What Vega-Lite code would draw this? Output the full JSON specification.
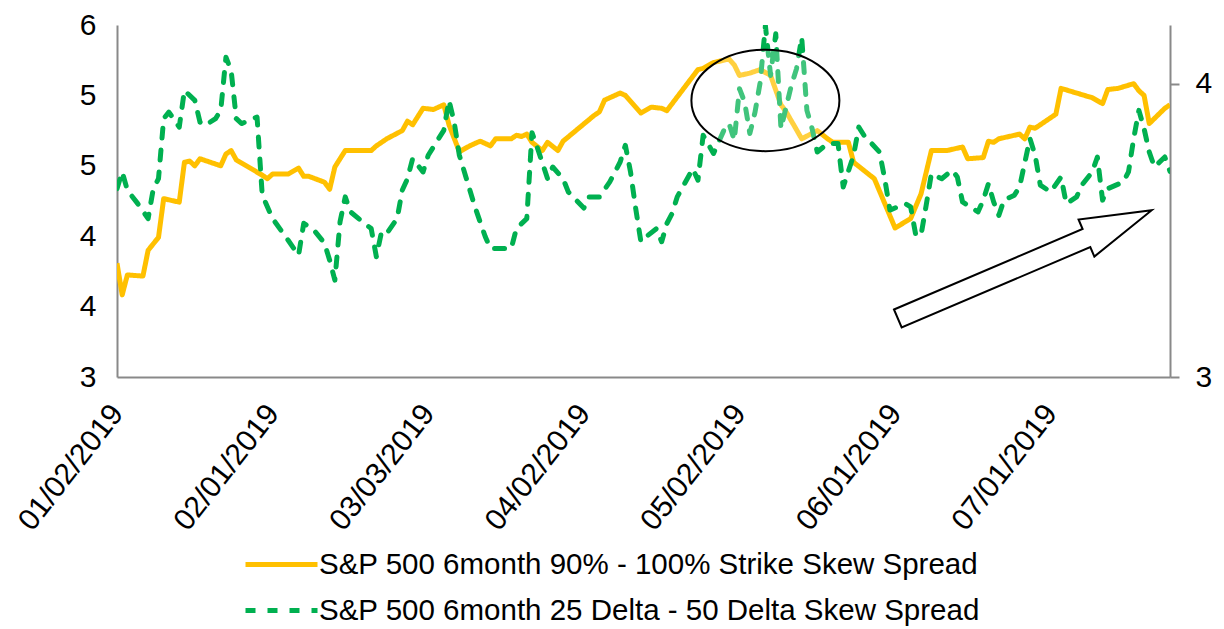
{
  "$schema": "https://vega.github.io/schema/vega-lite/v6.json",
  "width": 1053,
  "height": 352,
  "autosize": {"type": "none"},
  "padding": {"left": 117, "top": 25, "right": 54, "bottom": 252},
  "config": {"view": {"stroke": null}, "font": "Liberation Sans"},
  "datasets": {
    "strike": [
      {"date": "2019-01-02", "value": 3.97, "series": "S&P 500 6month 90% - 100% Strike Skew Spread"},
      {"date": "2019-01-03", "value": 3.70, "series": "S&P 500 6month 90% - 100% Strike Skew Spread"},
      {"date": "2019-01-04", "value": 3.87, "series": "S&P 500 6month 90% - 100% Strike Skew Spread"},
      {"date": "2019-01-07", "value": 3.86, "series": "S&P 500 6month 90% - 100% Strike Skew Spread"},
      {"date": "2019-01-08", "value": 4.08, "series": "S&P 500 6month 90% - 100% Strike Skew Spread"},
      {"date": "2019-01-10", "value": 4.19, "series": "S&P 500 6month 90% - 100% Strike Skew Spread"},
      {"date": "2019-01-11", "value": 4.52, "series": "S&P 500 6month 90% - 100% Strike Skew Spread"},
      {"date": "2019-01-14", "value": 4.49, "series": "S&P 500 6month 90% - 100% Strike Skew Spread"},
      {"date": "2019-01-15", "value": 4.83, "series": "S&P 500 6month 90% - 100% Strike Skew Spread"},
      {"date": "2019-01-16", "value": 4.84, "series": "S&P 500 6month 90% - 100% Strike Skew Spread"},
      {"date": "2019-01-17", "value": 4.80, "series": "S&P 500 6month 90% - 100% Strike Skew Spread"},
      {"date": "2019-01-18", "value": 4.86, "series": "S&P 500 6month 90% - 100% Strike Skew Spread"},
      {"date": "2019-01-22", "value": 4.80, "series": "S&P 500 6month 90% - 100% Strike Skew Spread"},
      {"date": "2019-01-23", "value": 4.90, "series": "S&P 500 6month 90% - 100% Strike Skew Spread"},
      {"date": "2019-01-24", "value": 4.93, "series": "S&P 500 6month 90% - 100% Strike Skew Spread"},
      {"date": "2019-01-25", "value": 4.85, "series": "S&P 500 6month 90% - 100% Strike Skew Spread"},
      {"date": "2019-01-30", "value": 4.72, "series": "S&P 500 6month 90% - 100% Strike Skew Spread"},
      {"date": "2019-01-31", "value": 4.69, "series": "S&P 500 6month 90% - 100% Strike Skew Spread"},
      {"date": "2019-02-01", "value": 4.73, "series": "S&P 500 6month 90% - 100% Strike Skew Spread"},
      {"date": "2019-02-04", "value": 4.73, "series": "S&P 500 6month 90% - 100% Strike Skew Spread"},
      {"date": "2019-02-06", "value": 4.78, "series": "S&P 500 6month 90% - 100% Strike Skew Spread"},
      {"date": "2019-02-07", "value": 4.71, "series": "S&P 500 6month 90% - 100% Strike Skew Spread"},
      {"date": "2019-02-08", "value": 4.71, "series": "S&P 500 6month 90% - 100% Strike Skew Spread"},
      {"date": "2019-02-11", "value": 4.66, "series": "S&P 500 6month 90% - 100% Strike Skew Spread"},
      {"date": "2019-02-12", "value": 4.60, "series": "S&P 500 6month 90% - 100% Strike Skew Spread"},
      {"date": "2019-02-13", "value": 4.79, "series": "S&P 500 6month 90% - 100% Strike Skew Spread"},
      {"date": "2019-02-15", "value": 4.93, "series": "S&P 500 6month 90% - 100% Strike Skew Spread"},
      {"date": "2019-02-20", "value": 4.93, "series": "S&P 500 6month 90% - 100% Strike Skew Spread"},
      {"date": "2019-02-21", "value": 4.97, "series": "S&P 500 6month 90% - 100% Strike Skew Spread"},
      {"date": "2019-02-23", "value": 5.03, "series": "S&P 500 6month 90% - 100% Strike Skew Spread"},
      {"date": "2019-02-26", "value": 5.10, "series": "S&P 500 6month 90% - 100% Strike Skew Spread"},
      {"date": "2019-02-27", "value": 5.18, "series": "S&P 500 6month 90% - 100% Strike Skew Spread"},
      {"date": "2019-02-28", "value": 5.15, "series": "S&P 500 6month 90% - 100% Strike Skew Spread"},
      {"date": "2019-03-02", "value": 5.29, "series": "S&P 500 6month 90% - 100% Strike Skew Spread"},
      {"date": "2019-03-04", "value": 5.28, "series": "S&P 500 6month 90% - 100% Strike Skew Spread"},
      {"date": "2019-03-06", "value": 5.32, "series": "S&P 500 6month 90% - 100% Strike Skew Spread"},
      {"date": "2019-03-07", "value": 5.15, "series": "S&P 500 6month 90% - 100% Strike Skew Spread"},
      {"date": "2019-03-09", "value": 4.92, "series": "S&P 500 6month 90% - 100% Strike Skew Spread"},
      {"date": "2019-03-11", "value": 4.97, "series": "S&P 500 6month 90% - 100% Strike Skew Spread"},
      {"date": "2019-03-13", "value": 5.01, "series": "S&P 500 6month 90% - 100% Strike Skew Spread"},
      {"date": "2019-03-15", "value": 4.97, "series": "S&P 500 6month 90% - 100% Strike Skew Spread"},
      {"date": "2019-03-16", "value": 5.03, "series": "S&P 500 6month 90% - 100% Strike Skew Spread"},
      {"date": "2019-03-19", "value": 5.03, "series": "S&P 500 6month 90% - 100% Strike Skew Spread"},
      {"date": "2019-03-20", "value": 5.06, "series": "S&P 500 6month 90% - 100% Strike Skew Spread"},
      {"date": "2019-03-21", "value": 5.05, "series": "S&P 500 6month 90% - 100% Strike Skew Spread"},
      {"date": "2019-03-22", "value": 5.07, "series": "S&P 500 6month 90% - 100% Strike Skew Spread"},
      {"date": "2019-03-23", "value": 5.00, "series": "S&P 500 6month 90% - 100% Strike Skew Spread"},
      {"date": "2019-03-25", "value": 4.93, "series": "S&P 500 6month 90% - 100% Strike Skew Spread"},
      {"date": "2019-03-26", "value": 5.00, "series": "S&P 500 6month 90% - 100% Strike Skew Spread"},
      {"date": "2019-03-28", "value": 4.93, "series": "S&P 500 6month 90% - 100% Strike Skew Spread"},
      {"date": "2019-03-29", "value": 5.01, "series": "S&P 500 6month 90% - 100% Strike Skew Spread"},
      {"date": "2019-04-04", "value": 5.23, "series": "S&P 500 6month 90% - 100% Strike Skew Spread"},
      {"date": "2019-04-05", "value": 5.26, "series": "S&P 500 6month 90% - 100% Strike Skew Spread"},
      {"date": "2019-04-06", "value": 5.36, "series": "S&P 500 6month 90% - 100% Strike Skew Spread"},
      {"date": "2019-04-09", "value": 5.42, "series": "S&P 500 6month 90% - 100% Strike Skew Spread"},
      {"date": "2019-04-10", "value": 5.40, "series": "S&P 500 6month 90% - 100% Strike Skew Spread"},
      {"date": "2019-04-13", "value": 5.25, "series": "S&P 500 6month 90% - 100% Strike Skew Spread"},
      {"date": "2019-04-15", "value": 5.30, "series": "S&P 500 6month 90% - 100% Strike Skew Spread"},
      {"date": "2019-04-17", "value": 5.29, "series": "S&P 500 6month 90% - 100% Strike Skew Spread"},
      {"date": "2019-04-18", "value": 5.27, "series": "S&P 500 6month 90% - 100% Strike Skew Spread"},
      {"date": "2019-04-24", "value": 5.62, "series": "S&P 500 6month 90% - 100% Strike Skew Spread"},
      {"date": "2019-04-25", "value": 5.63, "series": "S&P 500 6month 90% - 100% Strike Skew Spread"},
      {"date": "2019-04-27", "value": 5.68, "series": "S&P 500 6month 90% - 100% Strike Skew Spread"},
      {"date": "2019-04-30", "value": 5.71, "series": "S&P 500 6month 90% - 100% Strike Skew Spread"},
      {"date": "2019-05-01", "value": 5.66, "series": "S&P 500 6month 90% - 100% Strike Skew Spread"},
      {"date": "2019-05-02", "value": 5.57, "series": "S&P 500 6month 90% - 100% Strike Skew Spread"},
      {"date": "2019-05-04", "value": 5.59, "series": "S&P 500 6month 90% - 100% Strike Skew Spread"},
      {"date": "2019-05-06", "value": 5.62, "series": "S&P 500 6month 90% - 100% Strike Skew Spread"},
      {"date": "2019-05-08", "value": 5.57, "series": "S&P 500 6month 90% - 100% Strike Skew Spread"},
      {"date": "2019-05-10", "value": 5.32, "series": "S&P 500 6month 90% - 100% Strike Skew Spread"},
      {"date": "2019-05-11", "value": 5.26, "series": "S&P 500 6month 90% - 100% Strike Skew Spread"},
      {"date": "2019-05-14", "value": 5.03, "series": "S&P 500 6month 90% - 100% Strike Skew Spread"},
      {"date": "2019-05-17", "value": 5.10, "series": "S&P 500 6month 90% - 100% Strike Skew Spread"},
      {"date": "2019-05-19", "value": 5.03, "series": "S&P 500 6month 90% - 100% Strike Skew Spread"},
      {"date": "2019-05-20", "value": 5.00, "series": "S&P 500 6month 90% - 100% Strike Skew Spread"},
      {"date": "2019-05-23", "value": 5.00, "series": "S&P 500 6month 90% - 100% Strike Skew Spread"},
      {"date": "2019-05-24", "value": 4.83, "series": "S&P 500 6month 90% - 100% Strike Skew Spread"},
      {"date": "2019-05-28", "value": 4.69, "series": "S&P 500 6month 90% - 100% Strike Skew Spread"},
      {"date": "2019-05-30", "value": 4.48, "series": "S&P 500 6month 90% - 100% Strike Skew Spread"},
      {"date": "2019-06-01", "value": 4.27, "series": "S&P 500 6month 90% - 100% Strike Skew Spread"},
      {"date": "2019-06-04", "value": 4.35, "series": "S&P 500 6month 90% - 100% Strike Skew Spread"},
      {"date": "2019-06-06", "value": 4.56, "series": "S&P 500 6month 90% - 100% Strike Skew Spread"},
      {"date": "2019-06-08", "value": 4.93, "series": "S&P 500 6month 90% - 100% Strike Skew Spread"},
      {"date": "2019-06-11", "value": 4.93, "series": "S&P 500 6month 90% - 100% Strike Skew Spread"},
      {"date": "2019-06-14", "value": 4.96, "series": "S&P 500 6month 90% - 100% Strike Skew Spread"},
      {"date": "2019-06-15", "value": 4.86, "series": "S&P 500 6month 90% - 100% Strike Skew Spread"},
      {"date": "2019-06-18", "value": 4.87, "series": "S&P 500 6month 90% - 100% Strike Skew Spread"},
      {"date": "2019-06-19", "value": 5.01, "series": "S&P 500 6month 90% - 100% Strike Skew Spread"},
      {"date": "2019-06-20", "value": 5.00, "series": "S&P 500 6month 90% - 100% Strike Skew Spread"},
      {"date": "2019-06-21", "value": 5.03, "series": "S&P 500 6month 90% - 100% Strike Skew Spread"},
      {"date": "2019-06-25", "value": 5.07, "series": "S&P 500 6month 90% - 100% Strike Skew Spread"},
      {"date": "2019-06-26", "value": 5.03, "series": "S&P 500 6month 90% - 100% Strike Skew Spread"},
      {"date": "2019-06-27", "value": 5.13, "series": "S&P 500 6month 90% - 100% Strike Skew Spread"},
      {"date": "2019-06-28", "value": 5.12, "series": "S&P 500 6month 90% - 100% Strike Skew Spread"},
      {"date": "2019-07-02", "value": 5.24, "series": "S&P 500 6month 90% - 100% Strike Skew Spread"},
      {"date": "2019-07-03", "value": 5.46, "series": "S&P 500 6month 90% - 100% Strike Skew Spread"},
      {"date": "2019-07-09", "value": 5.38, "series": "S&P 500 6month 90% - 100% Strike Skew Spread"},
      {"date": "2019-07-11", "value": 5.33, "series": "S&P 500 6month 90% - 100% Strike Skew Spread"},
      {"date": "2019-07-12", "value": 5.45, "series": "S&P 500 6month 90% - 100% Strike Skew Spread"},
      {"date": "2019-07-14", "value": 5.46, "series": "S&P 500 6month 90% - 100% Strike Skew Spread"},
      {"date": "2019-07-17", "value": 5.50, "series": "S&P 500 6month 90% - 100% Strike Skew Spread"},
      {"date": "2019-07-18", "value": 5.44, "series": "S&P 500 6month 90% - 100% Strike Skew Spread"},
      {"date": "2019-07-19", "value": 5.40, "series": "S&P 500 6month 90% - 100% Strike Skew Spread"},
      {"date": "2019-07-20", "value": 5.16, "series": "S&P 500 6month 90% - 100% Strike Skew Spread"},
      {"date": "2019-07-23", "value": 5.29, "series": "S&P 500 6month 90% - 100% Strike Skew Spread"},
      {"date": "2019-07-24", "value": 5.32, "series": "S&P 500 6month 90% - 100% Strike Skew Spread"}
    ],
    "delta": [
      {"date": "2019-01-02", "value": 3.642, "series": "S&P 500 6month 25 Delta - 50 Delta Skew Spread"},
      {"date": "2019-01-03", "value": 3.699, "series": "S&P 500 6month 25 Delta - 50 Delta Skew Spread"},
      {"date": "2019-01-04", "value": 3.637, "series": "S&P 500 6month 25 Delta - 50 Delta Skew Spread"},
      {"date": "2019-01-06", "value": 3.591, "series": "S&P 500 6month 25 Delta - 50 Delta Skew Spread"},
      {"date": "2019-01-08", "value": 3.540, "series": "S&P 500 6month 25 Delta - 50 Delta Skew Spread"},
      {"date": "2019-01-09", "value": 3.642, "series": "S&P 500 6month 25 Delta - 50 Delta Skew Spread"},
      {"date": "2019-01-10", "value": 3.676, "series": "S&P 500 6month 25 Delta - 50 Delta Skew Spread"},
      {"date": "2019-01-11", "value": 3.881, "series": "S&P 500 6month 25 Delta - 50 Delta Skew Spread"},
      {"date": "2019-01-12", "value": 3.903, "series": "S&P 500 6month 25 Delta - 50 Delta Skew Spread"},
      {"date": "2019-01-14", "value": 3.852, "series": "S&P 500 6month 25 Delta - 50 Delta Skew Spread"},
      {"date": "2019-01-15", "value": 3.977, "series": "S&P 500 6month 25 Delta - 50 Delta Skew Spread"},
      {"date": "2019-01-17", "value": 3.943, "series": "S&P 500 6month 25 Delta - 50 Delta Skew Spread"},
      {"date": "2019-01-18", "value": 3.869, "series": "S&P 500 6month 25 Delta - 50 Delta Skew Spread"},
      {"date": "2019-01-19", "value": 3.858, "series": "S&P 500 6month 25 Delta - 50 Delta Skew Spread"},
      {"date": "2019-01-21", "value": 3.881, "series": "S&P 500 6month 25 Delta - 50 Delta Skew Spread"},
      {"date": "2019-01-22", "value": 3.909, "series": "S&P 500 6month 25 Delta - 50 Delta Skew Spread"},
      {"date": "2019-01-23", "value": 4.090, "series": "S&P 500 6month 25 Delta - 50 Delta Skew Spread"},
      {"date": "2019-01-24", "value": 4.045, "series": "S&P 500 6month 25 Delta - 50 Delta Skew Spread"},
      {"date": "2019-01-25", "value": 3.881, "series": "S&P 500 6month 25 Delta - 50 Delta Skew Spread"},
      {"date": "2019-01-26", "value": 3.864, "series": "S&P 500 6month 25 Delta - 50 Delta Skew Spread"},
      {"date": "2019-01-27", "value": 3.871, "series": "S&P 500 6month 25 Delta - 50 Delta Skew Spread"},
      {"date": "2019-01-29", "value": 3.886, "series": "S&P 500 6month 25 Delta - 50 Delta Skew Spread"},
      {"date": "2019-01-30", "value": 3.620, "series": "S&P 500 6month 25 Delta - 50 Delta Skew Spread"},
      {"date": "2019-02-01", "value": 3.540, "series": "S&P 500 6month 25 Delta - 50 Delta Skew Spread"},
      {"date": "2019-02-04", "value": 3.466, "series": "S&P 500 6month 25 Delta - 50 Delta Skew Spread"},
      {"date": "2019-02-06", "value": 3.415, "series": "S&P 500 6month 25 Delta - 50 Delta Skew Spread"},
      {"date": "2019-02-07", "value": 3.524, "series": "S&P 500 6month 25 Delta - 50 Delta Skew Spread"},
      {"date": "2019-02-09", "value": 3.500, "series": "S&P 500 6month 25 Delta - 50 Delta Skew Spread"},
      {"date": "2019-02-11", "value": 3.456, "series": "S&P 500 6month 25 Delta - 50 Delta Skew Spread"},
      {"date": "2019-02-12", "value": 3.398, "series": "S&P 500 6month 25 Delta - 50 Delta Skew Spread"},
      {"date": "2019-02-13", "value": 3.330, "series": "S&P 500 6month 25 Delta - 50 Delta Skew Spread"},
      {"date": "2019-02-14", "value": 3.529, "series": "S&P 500 6month 25 Delta - 50 Delta Skew Spread"},
      {"date": "2019-02-15", "value": 3.614, "series": "S&P 500 6month 25 Delta - 50 Delta Skew Spread"},
      {"date": "2019-02-16", "value": 3.563, "series": "S&P 500 6month 25 Delta - 50 Delta Skew Spread"},
      {"date": "2019-02-18", "value": 3.534, "series": "S&P 500 6month 25 Delta - 50 Delta Skew Spread"},
      {"date": "2019-02-20", "value": 3.506, "series": "S&P 500 6month 25 Delta - 50 Delta Skew Spread"},
      {"date": "2019-02-21", "value": 3.410, "series": "S&P 500 6month 25 Delta - 50 Delta Skew Spread"},
      {"date": "2019-02-22", "value": 3.495, "series": "S&P 500 6month 25 Delta - 50 Delta Skew Spread"},
      {"date": "2019-02-23", "value": 3.489, "series": "S&P 500 6month 25 Delta - 50 Delta Skew Spread"},
      {"date": "2019-02-25", "value": 3.540, "series": "S&P 500 6month 25 Delta - 50 Delta Skew Spread"},
      {"date": "2019-02-26", "value": 3.637, "series": "S&P 500 6month 25 Delta - 50 Delta Skew Spread"},
      {"date": "2019-02-27", "value": 3.676, "series": "S&P 500 6month 25 Delta - 50 Delta Skew Spread"},
      {"date": "2019-02-28", "value": 3.745, "series": "S&P 500 6month 25 Delta - 50 Delta Skew Spread"},
      {"date": "2019-03-02", "value": 3.699, "series": "S&P 500 6month 25 Delta - 50 Delta Skew Spread"},
      {"date": "2019-03-03", "value": 3.756, "series": "S&P 500 6month 25 Delta - 50 Delta Skew Spread"},
      {"date": "2019-03-06", "value": 3.841, "series": "S&P 500 6month 25 Delta - 50 Delta Skew Spread"},
      {"date": "2019-03-07", "value": 3.943, "series": "S&P 500 6month 25 Delta - 50 Delta Skew Spread"},
      {"date": "2019-03-08", "value": 3.869, "series": "S&P 500 6month 25 Delta - 50 Delta Skew Spread"},
      {"date": "2019-03-09", "value": 3.756, "series": "S&P 500 6month 25 Delta - 50 Delta Skew Spread"},
      {"date": "2019-03-12", "value": 3.580, "series": "S&P 500 6month 25 Delta - 50 Delta Skew Spread"},
      {"date": "2019-03-14", "value": 3.478, "series": "S&P 500 6month 25 Delta - 50 Delta Skew Spread"},
      {"date": "2019-03-15", "value": 3.438, "series": "S&P 500 6month 25 Delta - 50 Delta Skew Spread"},
      {"date": "2019-03-19", "value": 3.438, "series": "S&P 500 6month 25 Delta - 50 Delta Skew Spread"},
      {"date": "2019-03-20", "value": 3.506, "series": "S&P 500 6month 25 Delta - 50 Delta Skew Spread"},
      {"date": "2019-03-22", "value": 3.540, "series": "S&P 500 6month 25 Delta - 50 Delta Skew Spread"},
      {"date": "2019-03-23", "value": 3.833, "series": "S&P 500 6month 25 Delta - 50 Delta Skew Spread"},
      {"date": "2019-03-24", "value": 3.784, "series": "S&P 500 6month 25 Delta - 50 Delta Skew Spread"},
      {"date": "2019-03-26", "value": 3.676, "series": "S&P 500 6month 25 Delta - 50 Delta Skew Spread"},
      {"date": "2019-03-27", "value": 3.716, "series": "S&P 500 6month 25 Delta - 50 Delta Skew Spread"},
      {"date": "2019-03-29", "value": 3.676, "series": "S&P 500 6month 25 Delta - 50 Delta Skew Spread"},
      {"date": "2019-03-30", "value": 3.631, "series": "S&P 500 6month 25 Delta - 50 Delta Skew Spread"},
      {"date": "2019-04-02", "value": 3.576, "series": "S&P 500 6month 25 Delta - 50 Delta Skew Spread"},
      {"date": "2019-04-03", "value": 3.614, "series": "S&P 500 6month 25 Delta - 50 Delta Skew Spread"},
      {"date": "2019-04-05", "value": 3.614, "series": "S&P 500 6month 25 Delta - 50 Delta Skew Spread"},
      {"date": "2019-04-07", "value": 3.665, "series": "S&P 500 6month 25 Delta - 50 Delta Skew Spread"},
      {"date": "2019-04-09", "value": 3.733, "series": "S&P 500 6month 25 Delta - 50 Delta Skew Spread"},
      {"date": "2019-04-10", "value": 3.790, "series": "S&P 500 6month 25 Delta - 50 Delta Skew Spread"},
      {"date": "2019-04-11", "value": 3.699, "series": "S&P 500 6month 25 Delta - 50 Delta Skew Spread"},
      {"date": "2019-04-12", "value": 3.574, "series": "S&P 500 6month 25 Delta - 50 Delta Skew Spread"},
      {"date": "2019-04-13", "value": 3.461, "series": "S&P 500 6month 25 Delta - 50 Delta Skew Spread"},
      {"date": "2019-04-14", "value": 3.478, "series": "S&P 500 6month 25 Delta - 50 Delta Skew Spread"},
      {"date": "2019-04-16", "value": 3.506, "series": "S&P 500 6month 25 Delta - 50 Delta Skew Spread"},
      {"date": "2019-04-17", "value": 3.461, "series": "S&P 500 6month 25 Delta - 50 Delta Skew Spread"},
      {"date": "2019-04-18", "value": 3.523, "series": "S&P 500 6month 25 Delta - 50 Delta Skew Spread"},
      {"date": "2019-04-19", "value": 3.557, "series": "S&P 500 6month 25 Delta - 50 Delta Skew Spread"},
      {"date": "2019-04-20", "value": 3.614, "series": "S&P 500 6month 25 Delta - 50 Delta Skew Spread"},
      {"date": "2019-04-23", "value": 3.710, "series": "S&P 500 6month 25 Delta - 50 Delta Skew Spread"},
      {"date": "2019-04-24", "value": 3.671, "series": "S&P 500 6month 25 Delta - 50 Delta Skew Spread"},
      {"date": "2019-04-25", "value": 3.824, "series": "S&P 500 6month 25 Delta - 50 Delta Skew Spread"},
      {"date": "2019-04-27", "value": 3.762, "series": "S&P 500 6month 25 Delta - 50 Delta Skew Spread"},
      {"date": "2019-04-29", "value": 3.841, "series": "S&P 500 6month 25 Delta - 50 Delta Skew Spread"},
      {"date": "2019-04-30", "value": 3.864, "series": "S&P 500 6month 25 Delta - 50 Delta Skew Spread"},
      {"date": "2019-05-01", "value": 3.807, "series": "S&P 500 6month 25 Delta - 50 Delta Skew Spread"},
      {"date": "2019-05-02", "value": 3.983, "series": "S&P 500 6month 25 Delta - 50 Delta Skew Spread"},
      {"date": "2019-05-03", "value": 3.937, "series": "S&P 500 6month 25 Delta - 50 Delta Skew Spread"},
      {"date": "2019-05-04", "value": 3.830, "series": "S&P 500 6month 25 Delta - 50 Delta Skew Spread"},
      {"date": "2019-05-05", "value": 3.903, "series": "S&P 500 6month 25 Delta - 50 Delta Skew Spread"},
      {"date": "2019-05-06", "value": 4.005, "series": "S&P 500 6month 25 Delta - 50 Delta Skew Spread"},
      {"date": "2019-05-07", "value": 4.198, "series": "S&P 500 6month 25 Delta - 50 Delta Skew Spread"},
      {"date": "2019-05-08", "value": 4.028, "series": "S&P 500 6month 25 Delta - 50 Delta Skew Spread"},
      {"date": "2019-05-09", "value": 4.170, "series": "S&P 500 6month 25 Delta - 50 Delta Skew Spread"},
      {"date": "2019-05-10", "value": 3.847, "series": "S&P 500 6month 25 Delta - 50 Delta Skew Spread"},
      {"date": "2019-05-12", "value": 3.994, "series": "S&P 500 6month 25 Delta - 50 Delta Skew Spread"},
      {"date": "2019-05-13", "value": 4.051, "series": "S&P 500 6month 25 Delta - 50 Delta Skew Spread"},
      {"date": "2019-05-14", "value": 4.158, "series": "S&P 500 6month 25 Delta - 50 Delta Skew Spread"},
      {"date": "2019-05-15", "value": 3.909, "series": "S&P 500 6month 25 Delta - 50 Delta Skew Spread"},
      {"date": "2019-05-16", "value": 3.847, "series": "S&P 500 6month 25 Delta - 50 Delta Skew Spread"},
      {"date": "2019-05-17", "value": 3.767, "series": "S&P 500 6month 25 Delta - 50 Delta Skew Spread"},
      {"date": "2019-05-19", "value": 3.796, "series": "S&P 500 6month 25 Delta - 50 Delta Skew Spread"},
      {"date": "2019-05-21", "value": 3.796, "series": "S&P 500 6month 25 Delta - 50 Delta Skew Spread"},
      {"date": "2019-05-22", "value": 3.648, "series": "S&P 500 6month 25 Delta - 50 Delta Skew Spread"},
      {"date": "2019-05-24", "value": 3.756, "series": "S&P 500 6month 25 Delta - 50 Delta Skew Spread"},
      {"date": "2019-05-25", "value": 3.852, "series": "S&P 500 6month 25 Delta - 50 Delta Skew Spread"},
      {"date": "2019-05-26", "value": 3.824, "series": "S&P 500 6month 25 Delta - 50 Delta Skew Spread"},
      {"date": "2019-05-29", "value": 3.767, "series": "S&P 500 6month 25 Delta - 50 Delta Skew Spread"},
      {"date": "2019-05-30", "value": 3.676, "series": "S&P 500 6month 25 Delta - 50 Delta Skew Spread"},
      {"date": "2019-05-31", "value": 3.569, "series": "S&P 500 6month 25 Delta - 50 Delta Skew Spread"},
      {"date": "2019-06-03", "value": 3.591, "series": "S&P 500 6month 25 Delta - 50 Delta Skew Spread"},
      {"date": "2019-06-04", "value": 3.580, "series": "S&P 500 6month 25 Delta - 50 Delta Skew Spread"},
      {"date": "2019-06-05", "value": 3.483, "series": "S&P 500 6month 25 Delta - 50 Delta Skew Spread"},
      {"date": "2019-06-06", "value": 3.483, "series": "S&P 500 6month 25 Delta - 50 Delta Skew Spread"},
      {"date": "2019-06-07", "value": 3.586, "series": "S&P 500 6month 25 Delta - 50 Delta Skew Spread"},
      {"date": "2019-06-08", "value": 3.693, "series": "S&P 500 6month 25 Delta - 50 Delta Skew Spread"},
      {"date": "2019-06-10", "value": 3.676, "series": "S&P 500 6month 25 Delta - 50 Delta Skew Spread"},
      {"date": "2019-06-12", "value": 3.705, "series": "S&P 500 6month 25 Delta - 50 Delta Skew Spread"},
      {"date": "2019-06-13", "value": 3.682, "series": "S&P 500 6month 25 Delta - 50 Delta Skew Spread"},
      {"date": "2019-06-14", "value": 3.597, "series": "S&P 500 6month 25 Delta - 50 Delta Skew Spread"},
      {"date": "2019-06-17", "value": 3.563, "series": "S&P 500 6month 25 Delta - 50 Delta Skew Spread"},
      {"date": "2019-06-18", "value": 3.603, "series": "S&P 500 6month 25 Delta - 50 Delta Skew Spread"},
      {"date": "2019-06-19", "value": 3.659, "series": "S&P 500 6month 25 Delta - 50 Delta Skew Spread"},
      {"date": "2019-06-20", "value": 3.597, "series": "S&P 500 6month 25 Delta - 50 Delta Skew Spread"},
      {"date": "2019-06-21", "value": 3.551, "series": "S&P 500 6month 25 Delta - 50 Delta Skew Spread"},
      {"date": "2019-06-22", "value": 3.603, "series": "S&P 500 6month 25 Delta - 50 Delta Skew Spread"},
      {"date": "2019-06-24", "value": 3.620, "series": "S&P 500 6month 25 Delta - 50 Delta Skew Spread"},
      {"date": "2019-06-25", "value": 3.648, "series": "S&P 500 6month 25 Delta - 50 Delta Skew Spread"},
      {"date": "2019-06-27", "value": 3.813, "series": "S&P 500 6month 25 Delta - 50 Delta Skew Spread"},
      {"date": "2019-06-28", "value": 3.756, "series": "S&P 500 6month 25 Delta - 50 Delta Skew Spread"},
      {"date": "2019-06-29", "value": 3.654, "series": "S&P 500 6month 25 Delta - 50 Delta Skew Spread"},
      {"date": "2019-07-01", "value": 3.631, "series": "S&P 500 6month 25 Delta - 50 Delta Skew Spread"},
      {"date": "2019-07-03", "value": 3.682, "series": "S&P 500 6month 25 Delta - 50 Delta Skew Spread"},
      {"date": "2019-07-04", "value": 3.591, "series": "S&P 500 6month 25 Delta - 50 Delta Skew Spread"},
      {"date": "2019-07-06", "value": 3.614, "series": "S&P 500 6month 25 Delta - 50 Delta Skew Spread"},
      {"date": "2019-07-07", "value": 3.654, "series": "S&P 500 6month 25 Delta - 50 Delta Skew Spread"},
      {"date": "2019-07-09", "value": 3.699, "series": "S&P 500 6month 25 Delta - 50 Delta Skew Spread"},
      {"date": "2019-07-10", "value": 3.750, "series": "S&P 500 6month 25 Delta - 50 Delta Skew Spread"},
      {"date": "2019-07-11", "value": 3.603, "series": "S&P 500 6month 25 Delta - 50 Delta Skew Spread"},
      {"date": "2019-07-12", "value": 3.642, "series": "S&P 500 6month 25 Delta - 50 Delta Skew Spread"},
      {"date": "2019-07-15", "value": 3.665, "series": "S&P 500 6month 25 Delta - 50 Delta Skew Spread"},
      {"date": "2019-07-16", "value": 3.699, "series": "S&P 500 6month 25 Delta - 50 Delta Skew Spread"},
      {"date": "2019-07-17", "value": 3.813, "series": "S&P 500 6month 25 Delta - 50 Delta Skew Spread"},
      {"date": "2019-07-18", "value": 3.909, "series": "S&P 500 6month 25 Delta - 50 Delta Skew Spread"},
      {"date": "2019-07-19", "value": 3.847, "series": "S&P 500 6month 25 Delta - 50 Delta Skew Spread"},
      {"date": "2019-07-20", "value": 3.767, "series": "S&P 500 6month 25 Delta - 50 Delta Skew Spread"},
      {"date": "2019-07-21", "value": 3.716, "series": "S&P 500 6month 25 Delta - 50 Delta Skew Spread"},
      {"date": "2019-07-23", "value": 3.750, "series": "S&P 500 6month 25 Delta - 50 Delta Skew Spread"},
      {"date": "2019-07-24", "value": 3.701, "series": "S&P 500 6month 25 Delta - 50 Delta Skew Spread"}
    ],
    "ellipse": [{"date": "2019-05-07", "value": 5.357}],
    "arrow": [{"date": "2019-06-26", "value": 3.96}]
  },
  "layer": [
    {
      "data": {"name": "strike"},
      "mark": {"type": "line", "strokeWidth": 5, "strokeJoin": "round", "clip": true},
      "encoding": {
        "x": {
          "field": "date", "type": "temporal",
          "scale": {"type": "utc", "domain": [{"year": 2019, "month": 1, "date": 2, "utc": true}, {"year": 2019, "month": 7, "date": 24, "utc": true}]},
          "axis": {
            "values": [
              {"year": 2019, "month": 1, "date": 2, "utc": true},
              {"year": 2019, "month": 2, "date": 1, "utc": true},
              {"year": 2019, "month": 3, "date": 3, "utc": true},
              {"year": 2019, "month": 4, "date": 2, "utc": true},
              {"year": 2019, "month": 5, "date": 2, "utc": true},
              {"year": 2019, "month": 6, "date": 1, "utc": true},
              {"year": 2019, "month": 7, "date": 1, "utc": true}
            ],
            "labelExpr": "utcFormat(datum.value, '%m/%d/%Y')",
            "labelAngle": -52, "labelAlign": "right", "labelBaseline": "middle",
            "labelFontSize": 30, "labelColor": "#000000", "labelPadding": 31,
            "labelOverlap": false, "labelFlush": false, "labelBound": false,
            "ticks": false, "grid": false, "domainColor": "#898989", "domainWidth": 2, "title": null
          }
        },
        "y": {
          "field": "value", "type": "quantitative",
          "scale": {"domain": [3, 6], "nice": false, "zero": false},
          "axis": {
            "orient": "left", "values": [3, 3.6, 4.2, 4.8, 5.4, 6], "format": ".0f",
            "labelFontSize": 30, "labelColor": "#000000", "labelPadding": 21,
            "ticks": false, "grid": false, "domainColor": "#898989", "domainWidth": 2, "title": null
          }
        },
        "color": {
          "field": "series", "type": "nominal",
          "scale": {"domain": ["S&P 500 6month 90% - 100% Strike Skew Spread", "S&P 500 6month 25 Delta - 50 Delta Skew Spread"], "range": ["#FFC000", "#00B050"]},
          "legend": {
            "orient": "none", "legendX": 142, "legendY": 517, "title": null, "direction": "vertical",
            "symbolType": "M -1.8 0 L 1.8 0", "symbolSize": 1600, "symbolStrokeWidth": 5,
            "labelFontSize": 29.5, "labelColor": "#000000", "labelLimit": 900, "labelOffset": 15, "rowPadding": 9
          }
        },
        "strokeDash": {
          "field": "series", "type": "nominal",
          "scale": {"domain": ["S&P 500 6month 90% - 100% Strike Skew Spread", "S&P 500 6month 25 Delta - 50 Delta Skew Spread"], "range": [[1, 0], [10, 12]]}
        }
      }
    },
    {
      "data": {"name": "delta"},
      "mark": {"type": "line", "strokeWidth": 5, "strokeCap": "round", "strokeJoin": "round", "clip": true},
      "encoding": {
        "x": {
          "field": "date", "type": "temporal",
          "scale": {"type": "utc", "domain": [{"year": 2019, "month": 1, "date": 2, "utc": true}, {"year": 2019, "month": 7, "date": 24, "utc": true}]}
        },
        "y": {
          "field": "value", "type": "quantitative",
          "scale": {"domain": [3, 4.2], "nice": false, "zero": false},
          "axis": {
            "orient": "right", "values": [3, 4], "format": "d",
            "labelFontSize": 30, "labelColor": "#000000", "labelPadding": 16,
            "ticks": true, "tickSize": 9, "tickWidth": 2, "tickColor": "#898989",
            "grid": false, "domainColor": "#898989", "domainWidth": 2, "title": null
          }
        },
        "color": {"field": "series", "type": "nominal"},
        "strokeDash": {"field": "series", "type": "nominal"}
      }
    },
    {
      "data": {"name": "ellipse"},
      "mark": {
        "type": "point",
        "shape": "M 1 0 C 1 0.378 0.552 0.685 0 0.685 C -0.552 0.685 -1 0.378 -1 0 C -1 -0.378 -0.552 -0.685 0 -0.685 C 0.552 -0.685 1 -0.378 1 0 Z",
        "size": 21904, "filled": true, "fill": "#ffffff", "fillOpacity": 0.25,
        "stroke": "#000000", "strokeWidth": 2, "strokeOpacity": 1, "opacity": 1
      },
      "encoding": {
        "x": {"field": "date", "type": "temporal", "scale": {"type": "utc", "domain": [{"year": 2019, "month": 1, "date": 2, "utc": true}, {"year": 2019, "month": 7, "date": 24, "utc": true}]}},
        "y": {"field": "value", "type": "quantitative", "scale": {"domain": [3, 6], "nice": false, "zero": false}, "axis": null}
      }
    },
    {
      "data": {"name": "arrow"},
      "mark": {
        "type": "point",
        "shape": "M -1 -0.071 L 0.486 -0.071 L 0.486 -0.146 L 1 0 L 0.486 0.146 L 0.486 0.071 L -1 0.071 Z",
        "size": 76176, "angle": -23.1, "filled": true, "fill": "#ffffff", "fillOpacity": 1,
        "stroke": "#000000", "strokeWidth": 2, "strokeOpacity": 1, "opacity": 1
      },
      "encoding": {
        "x": {"field": "date", "type": "temporal", "scale": {"type": "utc", "domain": [{"year": 2019, "month": 1, "date": 2, "utc": true}, {"year": 2019, "month": 7, "date": 24, "utc": true}]}},
        "y": {"field": "value", "type": "quantitative", "scale": {"domain": [3, 6], "nice": false, "zero": false}, "axis": null}
      }
    }
  ],
  "resolve": {"scale": {"y": "independent"}, "axis": {"y": "independent"}}
}
